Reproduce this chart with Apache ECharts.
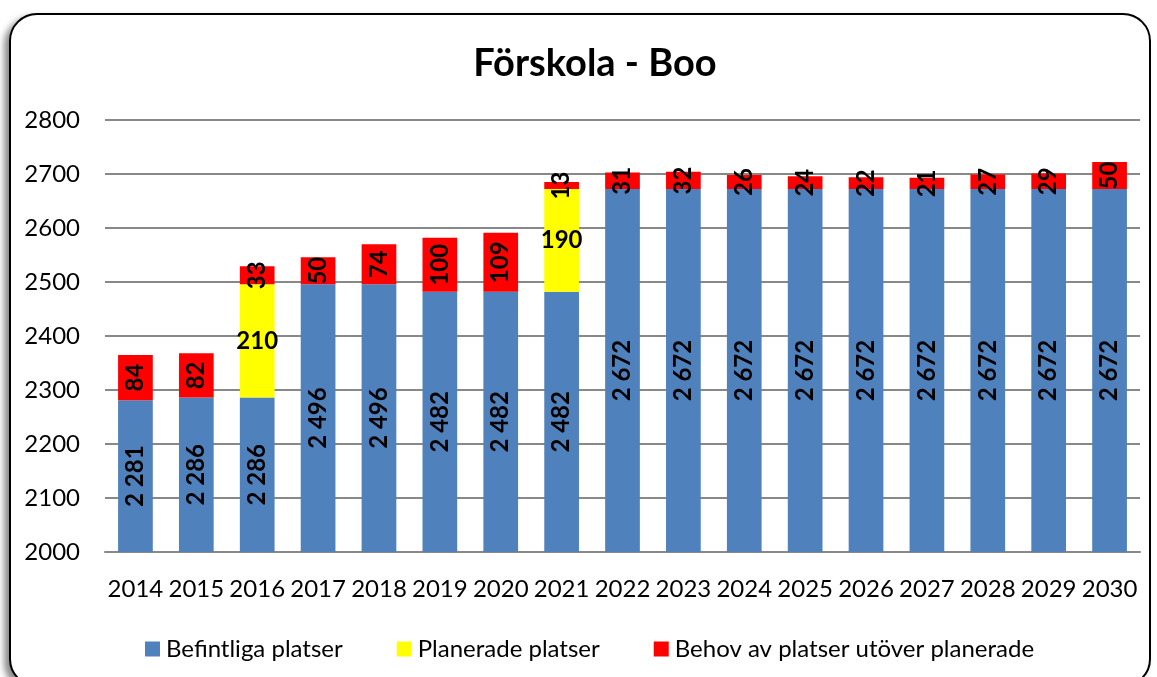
<!DOCTYPE html>
<html>
<head>
<meta charset="utf-8">
<script src="https://cdn.jsdelivr.net/npm/echarts@6/dist/echarts.min.js"></script>
<style>
  html, body { margin: 0; padding: 0; background: #fff; }
  #frame {
    position: absolute; left: 9px; top: 13px;
    width: 1138px; height: 670px;
    border: 2px solid #000; border-radius: 28px;
    box-shadow: -5px 4px 6px rgba(0,0,0,0.45);
    background: #fff;
  }
  #chart { position: absolute; left: 0; top: 0; width: 1157px; height: 677px; }
</style>
</head>
<body>
<div id="frame"></div>
<div id="chart"></div>
<script>
// years on the x axis
const years = ['2014','2015','2016','2017','2018','2019','2020','2021','2022','2023','2024','2025','2026','2027','2028','2029','2030'];
// existing places
const befintliga = [2281, 2286, 2286, 2496, 2496, 2482, 2482, 2482, 2672, 2672, 2672, 2672, 2672, 2672, 2672, 2672, 2672];
// planned places
const planerade = [0, 0, 210, 0, 0, 0, 0, 190, 0, 0, 0, 0, 0, 0, 0, 0, 0];
// need beyond planned
const behov = [84, 82, 33, 50, 74, 100, 109, 13, 31, 32, 26, 24, 22, 21, 27, 29, 50];

const font = 'Lato, "Open Sans", sans-serif';

let chart = echarts.init(document.getElementById('chart'));

function label(rotate, fmt) {
  return {
    show: true,
    position: 'inside',
    rotate: rotate,
    color: '#000',
    fontFamily: font,
    fontWeight: 'bold',
    fontSize: 24,
    formatter: fmt
  };
}

const thin = p => {
  let s = String(p.value);
  return s.length > 3 ? s.slice(0, s.length - 3) + ' ' + s.slice(-3) : s;
};
const hideZero = p => (p.value ? String(p.value) : '');

chart.setOption({
  animation: false,
  title: {
    text: 'Förskola - Boo',
    left: 590, top: 40, textAlign: 'center',
    textStyle: { fontFamily: font, fontSize: 38, fontWeight: 'bold', color: '#000' }
  },
  legend: {
    top: 632, left: 140,
    itemWidth: 15, itemHeight: 15, itemGap: 54,
    icon: 'rect',
    textStyle: { fontFamily: font, fontSize: 24, color: '#000', padding: [0, 0, 0, 1] },
    data: ['Befintliga platser', 'Planerade platser', 'Behov av platser utöver planerade']
  },
  grid: { left: 105, right: 17, top: 120, bottom: 125 },
  xAxis: {
    type: 'category',
    data: years,
    axisTick: { show: false },
    axisLine: { lineStyle: { color: '#888', width: 2 } },
    axisLabel: { fontFamily: font, fontSize: 24, color: '#000', margin: 25, interval: 0, hideOverlap: false }
  },
  yAxis: {
    type: 'value',
    min: 2000, max: 2800, interval: 100,
    axisLabel: { fontFamily: font, fontSize: 24, color: '#000', margin: 25, formatter: v => String(v) },
    splitLine: { lineStyle: { color: '#888', width: 2 } }
  },
  series: [
    {
      name: 'Befintliga platser', type: 'bar', stack: 'a',
      barWidth: '57%',
      itemStyle: { color: '#4F81BD' },
      label: label(90, thin),
      data: befintliga
    },
    {
      name: 'Planerade platser', type: 'bar', stack: 'a',
      itemStyle: { color: '#FFFF00' },
      label: label(0, hideZero),
      data: planerade
    },
    {
      name: 'Behov av platser utöver planerade', type: 'bar', stack: 'a',
      itemStyle: { color: '#FF0000' },
      label: label(90, hideZero),
      data: behov
    }
  ]
});
</script>
</body>
</html>
